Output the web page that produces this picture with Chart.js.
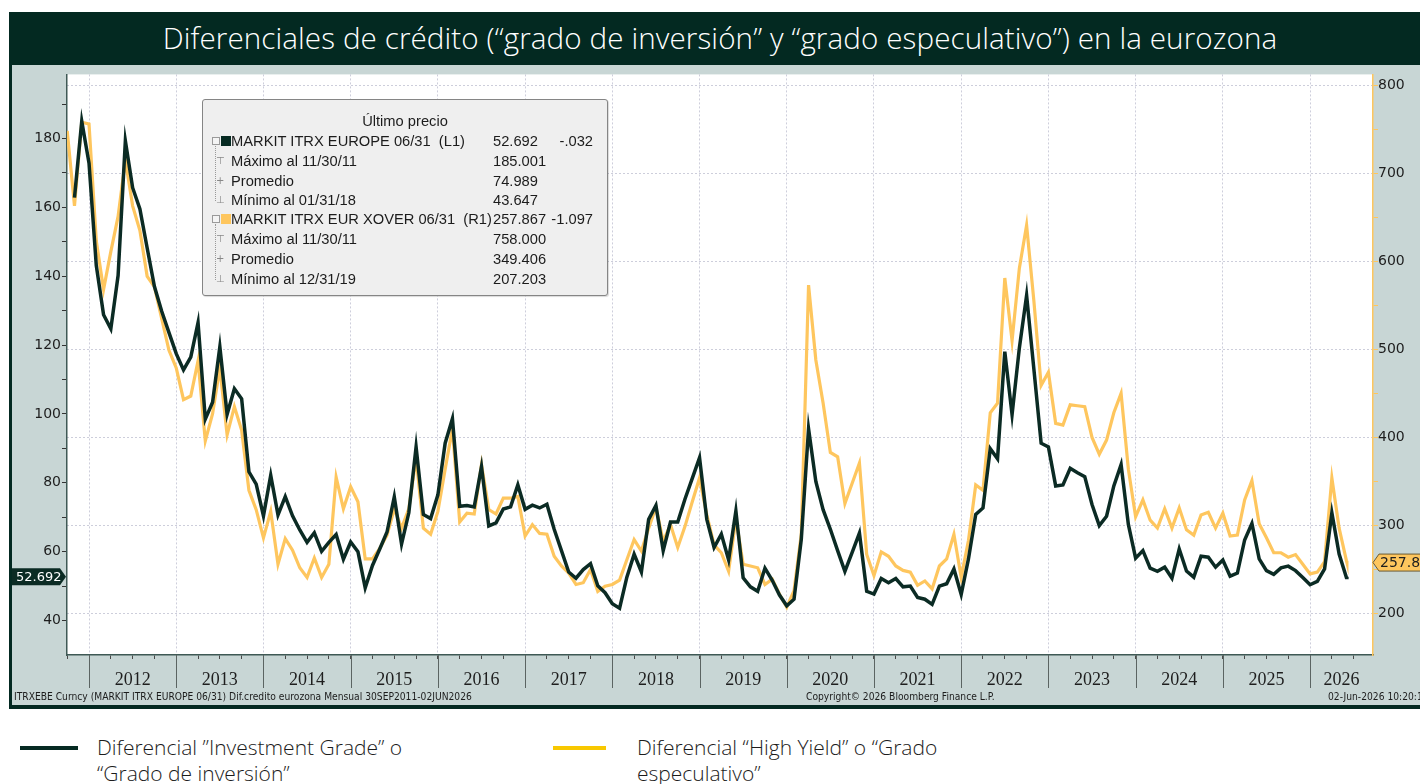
<!DOCTYPE html>
<html><head><meta charset="utf-8">
<script src="https://cdn.jsdelivr.net/npm/chart.js@4.4.1/dist/chart.umd.min.js"></script>
<style>
html,body{margin:0;padding:0;background:#fff;width:1420px;height:784px;overflow:hidden;position:relative;}
#frame{position:absolute;left:9px;top:12px;width:1440px;height:697px;background:#032921;}
#title{position:absolute;left:9px;top:12px;width:1422px;height:52px;line-height:52px;text-align:center;color:#fff;font-family:"Open Sans";font-weight:300;font-size:29.6px;letter-spacing:0.1px;}
#wrap{position:absolute;left:12px;top:65px;width:1408px;height:640px;overflow:hidden;}
#info{position:absolute;left:202px;top:99px;width:404px;height:195px;background:#efefef;border:1px solid #858585;border-radius:3px;box-shadow:1px 1px 1px rgba(0,0,0,0.15);font-family:"Liberation Sans";font-size:14.7px;color:#1c1c1c;}
#info div{position:absolute;white-space:nowrap;line-height:20px;height:20px;}
#info .hdr{left:0;width:404px;text-align:center;top:11px;}
#info .lbl{left:28px;}
#info .val{left:290px;}
#info .chg{right:14px;}
#info .sq{width:10px;height:10px;top:0;}
#info .tb{width:6px;height:6px;border:1px solid #9a9a9a;background:#f4f4f4;}
#info .vl{width:0;border-left:1px dotted #999;}
#info .ic{left:13px;font-size:10px;color:#888;font-family:"DejaVu Sans";}
.foot{position:absolute;font-family:"Liberation Sans Narrow","DejaVu Sans Condensed";font-size:10.2px;color:#1c1c1c;white-space:nowrap;line-height:12px;}
.leg{position:absolute;}
.legt{position:absolute;font-family:"Open Sans";font-weight:300;font-size:21px;line-height:26px;color:#1c1c1c;white-space:nowrap;letter-spacing:0px;}
</style></head>
<body>
<div id="frame"></div>
<div id="title">Diferenciales de crédito (“grado de inversión” y “grado especulativo”) en la eurozona</div>
<div id="wrap"><canvas id="c" width="1408" height="640"></canvas></div>
<div id="info">
  <div class="hdr">Último precio</div>
  <div class="tb" style="left:9px;top:37px"></div>
  <div class="sq" style="left:18px;top:36px;background:#062a22"></div>
  <div class="lbl" style="top:31px">MARKIT ITRX EUROPE 06/31&nbsp;&nbsp;(L1)</div>
  <div class="val" style="top:31px">52.692</div>
  <div class="chg" style="top:31px">-.032</div>
  <div class="vl" style="left:12px;top:46px;height:55px"></div>
  <div class="ic" style="top:51px">⊤</div>
  <div class="lbl" style="top:51px">Máximo al 11/30/11</div>
  <div class="val" style="top:51px">185.001</div>
  <div class="ic" style="top:71px">+</div>
  <div class="lbl" style="top:71px">Promedio</div>
  <div class="val" style="top:71px">74.989</div>
  <div class="ic" style="top:90px">⊥</div>
  <div class="lbl" style="top:90px">Mínimo al 01/31/18</div>
  <div class="val" style="top:90px">43.647</div>
  <div class="tb" style="left:9px;top:115px"></div>
  <div class="sq" style="left:18px;top:114px;background:#fec65e"></div>
  <div class="lbl" style="top:109px">MARKIT ITRX EUR XOVER 06/31&nbsp;&nbsp;(R1)</div>
  <div class="val" style="top:109px">257.867</div>
  <div class="chg" style="top:109px">-1.097</div>
  <div class="vl" style="left:12px;top:124px;height:56px"></div>
  <div class="ic" style="top:129px">⊤</div>
  <div class="lbl" style="top:129px">Máximo al 11/30/11</div>
  <div class="val" style="top:129px">758.000</div>
  <div class="ic" style="top:149px">+</div>
  <div class="lbl" style="top:149px">Promedio</div>
  <div class="val" style="top:149px">349.406</div>
  <div class="ic" style="top:169px">⊥</div>
  <div class="lbl" style="top:169px">Mínimo al 12/31/19</div>
  <div class="val" style="top:169px">207.203</div>
</div>
<div class="foot" style="left:14px;top:691px">ITRXEBE Curncy (MARKIT ITRX EUROPE 06/31) Dif.credito eurozona Mensual 30SEP2011-02JUN2026</div>
<div class="foot" style="left:806px;top:691px">Copyright© 2026 Bloomberg Finance L.P.</div>
<div class="foot" style="left:1328px;top:691px">02-Jun-2026 10:20:15</div>

<div class="leg" style="left:20px;top:746px;width:58px;height:4px;background:#062a22"></div>
<div class="legt" style="left:97px;top:734px">Diferencial ”Investment Grade” o<br>“Grado de inversión”</div>
<div class="leg" style="left:553px;top:746px;width:53px;height:4px;background:#f8c800"></div>
<div class="legt" style="left:637px;top:734px">Diferencial “High Yield” o “Grado<br>especulativo”</div>

<script>
// ---- Data (monthly, Sep 2011 .. May 2026, plus 02-Jun-2026) ----
const years = ['2012','2013','2014','2015','2016','2017','2018','2019','2020','2021','2022','2023','2024','2025','2026'];

const igSpread = [
  null,162.8,185.0,172.8,
  143.1,128.8,124.7,140.2,179.3,165.7,159.5,148.2,137.0,129.8,123.6,117.5,
  112.8,116.5,126.5,98.5,103.4,119.5,99.9,107.3,104.4,83.2,79.6,70.4,
  82.2,70.7,76.0,70.4,66.3,62.7,65.5,60.1,62.7,65.0,57.8,62.8,
  60.0,49.5,56.0,60.8,65.7,75.9,62.2,71.3,90.4,70.8,69.6,76.5,
  91.5,98.6,73.2,73.4,73.0,84.7,67.5,68.4,72.4,73.0,79.4,72.3,
  73.5,72.7,73.8,66.5,60.3,54.1,52.3,54.8,56.5,50.1,48.1,44.9,
  43.6,52.6,59.3,54.1,69.4,73.4,60.3,68.6,68.6,75.3,81.3,87.3,
  69.4,61.2,65.1,57.6,71.8,52.4,49.8,48.5,55.2,51.7,47.4,44.3,
  46.2,63.6,95.7,80.4,72.2,66.5,60.3,54.3,59.8,65.4,48.5,47.7,
  52.2,51.0,52.2,49.8,50.0,46.7,46.2,44.7,50.0,50.7,55.0,47.6,
  57.9,70.8,72.7,89.9,87.0,118.1,99.8,119.1,134.4,113.0,91.5,90.4,
  79.1,79.4,84.2,82.9,81.8,73.7,67.6,70.3,79.1,85.3,67.9,58.1,
  60.3,55.2,54.3,55.5,52.3,60.8,54.4,52.6,58.7,58.4,55.5,57.6,
  52.9,53.8,63.4,68.2,57.9,54.5,53.4,55.3,55.8,54.5,52.5,50.4,
  51.4,55.0,71.3,59.3,52.5,52.692
];

const hySpread = [
  748,663,758,756,
  623,568,611,651,715,663,635,583,571,535,499,479,
  443,447,487,396,427,479,403,435,408,340,318,286,
  316,256,285,272,252,241,263,241,256,355,319,344,
  327,262,262,274,289,319,297,319,377,297,290,316,
  364,410,304,314,313,369,318,313,331,331,333,288,
  301,291,290,265,254,246,233,235,250,225,231,233,
  238,261,284,271,297,321,282,301,275,299,327,354,
  312,278,269,248,308,256,254,252,233,239,222,207.2,
  226,290,573,488,439,383,378,325,348,371,267,243,
  270,265,254,249,247,232,237,228,254,262,290,241,
  283,346,340,428,439,581,510,592,641,555,459,474,
  416,414,437,436,435,400,381,397,428,450,364,310,
  329,306,297,319,297,320,295,289,312,315,297,314,
  288,289,329,351,302,286,269,269,264,267,256,245,
  247,259,354,297,260,257.867
];

const leftTicks = [40,60,80,100,120,140,160,180];
const rightTicks = [200,300,400,500,600,700,800];

// dates: month ends Sep 2011 .. May 2026, then 2026-06-02
const dates = [];
for (let y = 2011, m = 9; !(y === 2026 && m === 6); ) {
  dates.push([y, m, 0]);
  m++; if (m > 12) { m = 1; y++; }
}
dates.push([2026, 5, 2 / 30]);
// position in months, 0 = start of 2012
const xPos = dates.map(([y, m, f]) => (y - 2012) * 12 + m + f);

const igPts = xPos.map((x, i) => ({x, y: igSpread[i]}));
const hyPts = xPos.map((x, i) => ({x, y: hySpread[i]}));

const DARK = '#0b2b24', GOLD = '#fec65e', GRID = '#cdcedb';

const decor = {
  id: 'decor',
  beforeDraw(chart) {
    const {ctx, chartArea: a, width, height} = chart;
    ctx.save();
    ctx.fillStyle = '#c8d6d5';
    ctx.fillRect(0, 0, width, height);
    ctx.fillStyle = '#ffffff';
    ctx.fillRect(a.left, a.top, a.right - a.left, a.bottom - a.top);
    ctx.restore();
  },
  afterDraw(chart) {
    const {ctx, chartArea: a, scales} = chart;
    const x = scales.x;
    ctx.save();
    ctx.strokeStyle = '#5b6462'; ctx.lineWidth = 1;
    years.forEach(yr => {
      const px = Math.round(x.getPixelForValue((+yr - 2012) * 12)) + 0.5;
      ctx.beginPath(); ctx.moveTo(px, a.bottom); ctx.lineTo(px, a.bottom + 33); ctx.stroke();
    });
    ctx.fillStyle = '#1e1e1e';
    ctx.font = '18px "Liberation Sans Narrow"';
    ctx.textAlign = 'center'; ctx.textBaseline = 'middle';
    years.forEach(yr => {
      const t0 = (+yr - 2012) * 12;
      const p0 = x.getPixelForValue(t0);
      const p1 = Math.min(x.getPixelForValue(t0 + 12), a.right);
      ctx.fillText(yr, (p0 + p1) / 2, a.bottom + 25);
    });
    // last value tags
    const lastIG = igSpread[igSpread.length - 1];
    const lastHY = hySpread[hySpread.length - 1];
    const yl = scales.y.getPixelForValue(lastIG);
    ctx.beginPath();
    ctx.moveTo(0, yl - 8.5); ctx.lineTo(48, yl - 8.5); ctx.lineTo(a.left - 1, yl);
    ctx.lineTo(48, yl + 8.5); ctx.lineTo(0, yl + 8.5); ctx.closePath();
    ctx.fillStyle = DARK; ctx.fill();
    ctx.fillStyle = '#fff'; ctx.font = '13px "DejaVu Sans"';
    ctx.textAlign = 'left';
    ctx.fillText(lastIG.toFixed(3), 4, yl + 0.5);
    const yr1 = scales.y1.getPixelForValue(lastHY);
    const tip = a.right;
    ctx.beginPath();
    ctx.moveTo(tip, yr1); ctx.lineTo(tip + 6, yr1 - 8.5); ctx.lineTo(1420, yr1 - 8.5);
    ctx.lineTo(1420, yr1 + 8.5); ctx.lineTo(tip + 6, yr1 + 8.5); ctx.closePath();
    ctx.fillStyle = GOLD; ctx.fill();
    ctx.strokeStyle = '#6b5a30'; ctx.lineWidth = 1; ctx.stroke();
    ctx.fillStyle = '#1e1e1e';
    ctx.font = '14px "DejaVu Sans"';
    ctx.fillText(lastHY.toFixed(3), tip + 7, yr1 + 0.5);
    ctx.restore();
  }
};

new Chart(document.getElementById('c'), {
  type: 'line',
  data: {
    datasets: [
      {label: 'MARKIT ITRX EUROPE 06/31', data: igPts, yAxisID: 'y', borderColor: DARK, borderWidth: 3.5, pointRadius: 0, tension: 0, spanGaps: false},
      {label: 'MARKIT ITRX EUR XOVER 06/31', data: hyPts, yAxisID: 'y1', borderColor: GOLD, borderWidth: 3.2, pointRadius: 0, tension: 0}
    ]
  },
  options: {
    responsive: false, animation: false, devicePixelRatio: 1,
    layout: {padding: {top: 2, left: 0, right: 0, bottom: 0}},
    plugins: {legend: {display: false}, tooltip: {enabled: false}},
    scales: {
      x: {
        type: 'linear', min: -3.03, max: 176.66,
        afterBuildTicks(s) { const t = []; for (let v = -3; v <= 174; v += 3) t.push({value: v}); s.ticks = t; },
        afterFit(s) { s.height = 50; },
        ticks: {display: false},
        grid: {color: c => (c.tick && c.tick.value % 12 === 0) ? GRID : 'rgba(0,0,0,0)', lineWidth: 1, drawTicks: true, tickLength: 4, tickColor: '#4a4a4a', tickWidth: 1},
        border: {color: '#3f5955', width: 1.5, dash: [2, 2]}
      },
      y: {
        type: 'linear', position: 'left', min: 30, max: 198.6,
        afterBuildTicks(s) { const t = []; for (let v = 40; v <= 190; v += 10) t.push({value: v}); s.ticks = t; },
        afterFit(s) { s.width = 55; },
        ticks: {callback: v => leftTicks.includes(v) ? String(v) : '', color: '#1e1e1e', font: {family: 'DejaVu Sans', size: 14}, padding: 1},
        grid: {drawOnChartArea: false, drawTicks: true, tickLength: 5, tickColor: '#333'},
        border: {color: '#3f5955', width: 1.5}
      },
      y1: {
        type: 'linear', position: 'right', min: 152.9, max: 812.3,
        afterBuildTicks(s) { const t = []; for (let v = 200; v <= 800; v += 50) t.push({value: v}); s.ticks = t; },
        afterFit(s) { s.width = 47; },
        ticks: {callback: v => rightTicks.includes(v) ? String(v) : '', color: '#1e1e1e', font: {family: 'DejaVu Sans', size: 14}, padding: 0},
        grid: {drawOnChartArea: true, color: c => (c.tick && c.tick.value % 100 === 0) ? GRID : 'rgba(0,0,0,0)', drawTicks: true, tickLength: 5, tickColor: GOLD},
        border: {color: GOLD, width: 1.5, dash: [2, 2]}
      }
    }
  },
  plugins: [decor]
});
</script>
</body></html>
